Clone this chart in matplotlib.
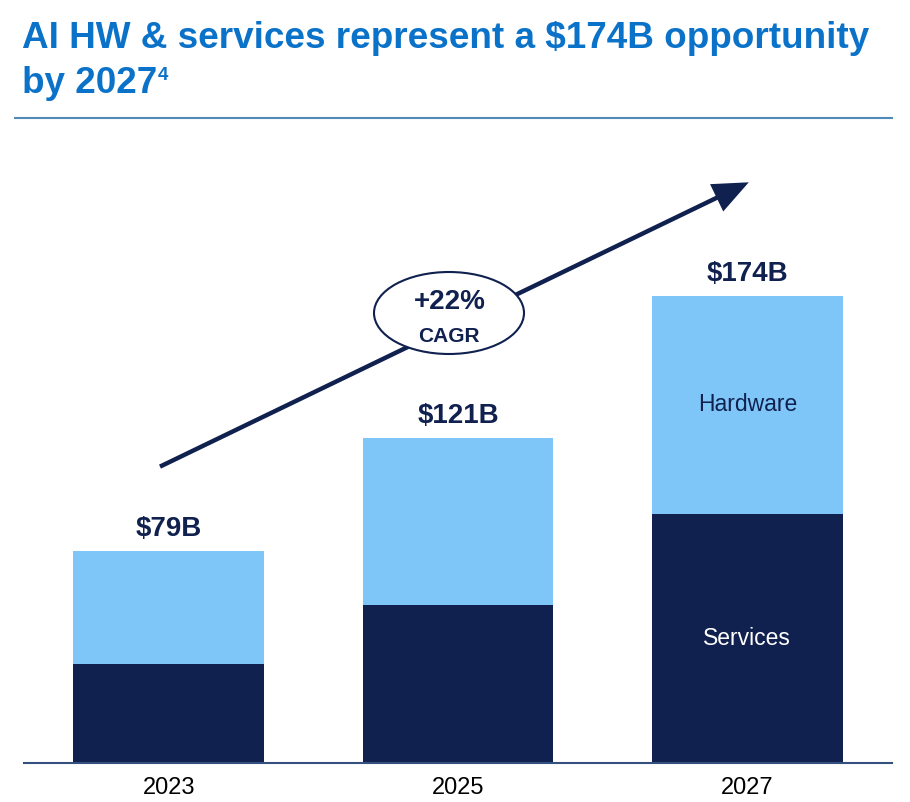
import matplotlib.pyplot as plt
from matplotlib.patches import Ellipse
from matplotlib.lines import Line2D

plt.rcParams['font.family'] = ['Liberation Sans', 'DejaVu Sans']

years = ['2023', '2025', '2027']
services = [37, 59, 93]
hardware = [42, 62, 81]
totals = ['$79B', '$121B', '$174B']

navy = '#10214f'
light = '#7fc6f8'
title_blue = '#0a72c8'

fig = plt.figure(figsize=(9.1, 8.02), dpi=100)
ax = fig.add_axes([24 / 910, 39 / 802, 868 / 910, 633 / 802])

x = range(len(years))
ax.bar(x, services, width=0.66, color=navy)
ax.bar(x, hardware, width=0.66, bottom=services, color=light)

for i in x:
    top = services[i] + hardware[i]
    ax.text(i, top + 3.5, totals[i], ha='center', va='bottom',
            fontsize=20, fontweight='bold', color=navy)

ax.text(2, services[2] + hardware[2] / 2, 'Hardware', ha='center', va='center',
        fontsize=16.5, color=navy)
ax.text(2, services[2] / 2, 'Services', ha='center', va='center',
        fontsize=16.5, color='white')

# growth arrow
ax.annotate('', xy=(2.005, 216.5), xytext=(-0.03, 110.5),
            arrowprops=dict(arrowstyle='-|>,head_length=2.0,head_width=0.85',
                            color=navy, lw=3.2, shrinkA=0, shrinkB=0,
                            joinstyle='miter', capstyle='butt'))

ax.set_xlim(-0.5, 2.5)
ax.set_ylim(0, 236)
ax.set_xticks(list(x))
ax.set_xticklabels(years, fontsize=17)
ax.tick_params(axis='x', length=0, pad=10)
ax.set_yticks([])
for s in ['top', 'right', 'left']:
    ax.spines[s].set_visible(False)
ax.spines['bottom'].set_color('#34507e')
ax.spines['bottom'].set_linewidth(1.5)

# CAGR bubble
ell = Ellipse((449 / 910, 1 - 313 / 802), 150 / 910, 82 / 802,
              transform=fig.transFigure, facecolor='white', edgecolor=navy, lw=1.5)
fig.patches.append(ell)
fig.text(450 / 910, 1 - 302 / 802, '+22%', ha='center', va='center',
         fontsize=20, fontweight='bold', color=navy)
fig.text(449 / 910, 1 - 337 / 802, 'CAGR', ha='center', va='center',
         fontsize=15, fontweight='bold', color=navy)

# title
fig.text(22 / 910, 1 - 48 / 802, 'AI HW & services represent a $174B opportunity',
         ha='left', va='baseline', fontsize=26.6, fontweight='bold', color=title_blue)
t2 = fig.text(22 / 910, 1 - 93 / 802, 'by 2027', ha='left', va='baseline',
              fontsize=26.6, fontweight='bold', color=title_blue)
fig.canvas.draw()
bb = t2.get_window_extent()
fig.text(bb.x1 / 910 + 1 / 910, 1 - 80 / 802, '4', ha='left', va='baseline',
         fontsize=13.5, fontweight='bold', color=title_blue)

fig.add_artist(Line2D([15 / 910, 892 / 910], [1 - 118 / 802, 1 - 118 / 802],
                      transform=fig.transFigure, color='#4f8ab9', lw=1.5))

fig.savefig('out.png', dpi=100)
